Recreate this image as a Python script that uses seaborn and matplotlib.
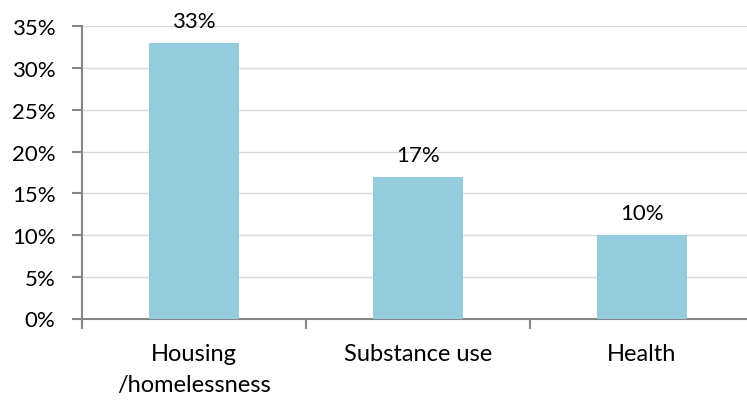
import matplotlib
matplotlib.use("Agg")
import matplotlib.pyplot as plt
import seaborn as sns
import pandas as pd

categories = ["Housing\n/homelessness", "Substance use", "Health"]
values = [33, 17, 10]
labels = ["33%", "17%", "10%"]
yticks = [0, 5, 10, 15, 20, 25, 30, 35]
ytick_labels = ["0%", "5%", "10%", "15%", "20%", "25%", "30%", "35%"]

sns.set_theme(style="white")
plt.rcParams["font.family"] = ["Lato", "DejaVu Sans"]

df = pd.DataFrame({"cat": categories, "val": values})

fig = plt.figure(figsize=(7.47, 4.02), dpi=100)
ax = fig.add_axes([82 / 747, 82.5 / 402, 672 / 747, 292.2 / 402])

sns.barplot(data=df, x="cat", y="val", color="#93CDDD", width=0.4,
            saturation=1, linewidth=0, ax=ax, zorder=3)

ax.set_xlim(-0.5, 2.5)
ax.set_ylim(0, 35)
ax.set_yticks(yticks)
ax.set_yticklabels(ytick_labels, fontsize=16, color="#000000")
ax.yaxis.grid(True, color="#D9D9D9", linewidth=1, zorder=0)
ax.set_axisbelow(True)

ax.set_xticks([-0.5, 0.5, 1.5, 2.5], minor=False)
ax.set_xticklabels([])
ax.tick_params(axis="x", which="major", length=7, width=1.5, color="#868686", direction="out", bottom=True)
ax.set_xticks([0, 1, 2], minor=True)
ax.set_xticklabels(categories, minor=True, fontsize=17, color="#000000", linespacing=1.55)
ax.tick_params(axis="x", which="minor", length=0, pad=18)
ax.tick_params(axis="y", length=7, width=1.5, color="#868686", direction="out", left=True, pad=12)

for s in ["top", "right"]:
    ax.spines[s].set_visible(False)
for s in ["left", "bottom"]:
    ax.spines[s].set_color("#868686")
    ax.spines[s].set_linewidth(1.5)

ax.set_xlabel("")
ax.set_ylabel("")

for i, (v, t) in enumerate(zip(values, labels)):
    ax.annotate(t, (i, v), xytext=(0, 11.5), textcoords="offset points",
                ha="center", va="baseline", fontsize=16, color="#000000")

fig.savefig("out.png", dpi=100)
